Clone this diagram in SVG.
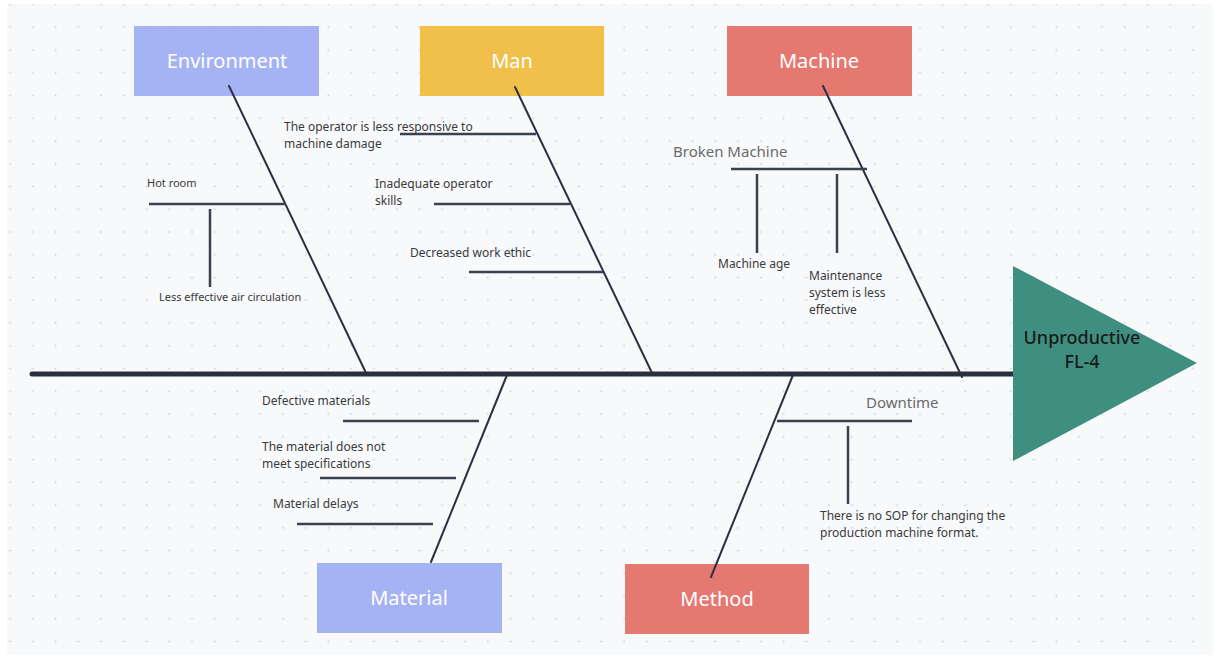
<svg xmlns="http://www.w3.org/2000/svg" width="1218" height="659" viewBox="0 0 1218 659">
<defs>
<pattern id="dots" patternUnits="userSpaceOnUse" x="-1.375" y="-6.875" width="22.75" height="22.75">
<circle cx="11.375" cy="11.375" r="1.1" fill="#d3d6dc"/>
</pattern>
<style>
.bone{stroke:#2a3140;stroke-width:2;fill:none;stroke-linecap:round}
.sub{stroke:#3a4252;stroke-width:2.5;fill:none}
.lbl{font-family:"Noto Sans","Open Sans","Liberation Sans",sans-serif;font-size:12px;fill:#3a3a3a}
.lbl11{font-family:"Noto Sans","Open Sans","Liberation Sans",sans-serif;font-size:11px;fill:#3a3a3a}
.grp{font-family:"Noto Sans","Open Sans","Liberation Sans",sans-serif;font-size:15px;fill:#6a6a6a}
.box{font-family:"Noto Sans","Open Sans","Liberation Sans",sans-serif;font-size:20px;fill:#ffffff;text-anchor:middle}
</style>
</defs>
<rect x="0" y="0" width="1218" height="659" fill="#ffffff"/>
<rect x="7" y="4" width="1206" height="651" fill="#f8f9fb"/>
<rect x="7" y="4" width="1206" height="651" fill="url(#dots)"/>

<g id="environment">
<rect x="134" y="26" width="185" height="70" fill="#a5b3f4"/>
<text class="box" x="227" y="68">Environment</text>
</g>
<g id="man">
<rect x="420" y="26" width="184" height="70" fill="#f0c04b"/>
<text class="box" x="512" y="68">Man</text>
</g>
<g id="machine">
<rect x="727" y="26" width="185" height="70" fill="#e67872"/>
<text class="box" x="819" y="68">Machine</text>
</g>
<g id="material">
<rect x="317" y="563" width="185" height="70" fill="#a5b3f4"/>
<text class="box" x="409" y="605">Material</text>
</g>
<g id="method">
<rect x="625" y="564" width="184" height="70" fill="#e67872"/>
<text class="box" x="717" y="606">Method</text>
</g>

<g id="connectors">
<line x1="32" y1="374" x2="1014" y2="374" stroke="#29303d" stroke-width="5" stroke-linecap="round"/>
<line class="bone" x1="229" y1="86" x2="367" y2="375"/>
<line class="bone" x1="515" y1="87" x2="653" y2="375"/>
<line class="bone" x1="823" y1="86" x2="962" y2="377"/>
<line class="bone" x1="507" y1="375" x2="431" y2="562"/>
<line class="bone" x1="793" y1="375" x2="711" y2="577"/>
<line class="sub" x1="149" y1="204" x2="286" y2="204"/>
<line class="sub" x1="210" y1="209" x2="210" y2="287"/>
<line class="sub" x1="400" y1="134" x2="536" y2="134"/>
<line class="sub" x1="434" y1="204" x2="570" y2="204"/>
<line class="sub" x1="469" y1="272" x2="603" y2="272"/>
<line class="sub" x1="731" y1="169" x2="867" y2="169"/>
<line class="sub" x1="757" y1="174" x2="757" y2="253"/>
<line class="sub" x1="837" y1="174" x2="837" y2="253"/>
<line class="sub" x1="343" y1="421" x2="479" y2="421"/>
<line class="sub" x1="320" y1="478" x2="456" y2="478"/>
<line class="sub" x1="297" y1="524" x2="433" y2="524"/>
<line class="sub" x1="777" y1="421" x2="912" y2="421"/>
<line class="sub" x1="848" y1="426" x2="848" y2="504"/>
</g>

<g id="effect">
<polygon points="1013,266 1197,363 1013,461" fill="#3f8f80"/>
<text x="1082" y="344" font-family="'Noto Sans','Open Sans','Liberation Sans',sans-serif" font-size="18" font-weight="500" fill="#1a1a1a" text-anchor="middle">Unproductive</text>
<text x="1082" y="368" font-family="'Noto Sans','Open Sans','Liberation Sans',sans-serif" font-size="18" font-weight="500" fill="#1a1a1a" text-anchor="middle">FL-4</text>
</g>

<g id="env-causes">
<text class="lbl11" x="147" y="187">Hot room</text>
<text class="lbl11" x="159" y="301">Less effective air circulation</text>
</g>
<g id="man-causes">
<text class="lbl" x="284" y="131">The operator is less responsive to</text>
<text class="lbl" x="284" y="148">machine damage</text>
<text class="lbl" x="375" y="188">Inadequate operator</text>
<text class="lbl" x="375" y="205">skills</text>
<text class="lbl" x="410" y="257">Decreased work ethic</text>
</g>
<g id="machine-causes">
<text class="grp" x="673" y="157">Broken Machine</text>
<text class="lbl" x="718" y="268">Machine age</text>
<text class="lbl" x="809" y="280">Maintenance</text>
<text class="lbl" x="809" y="297">system is less</text>
<text class="lbl" x="809" y="314">effective</text>
</g>
<g id="material-causes">
<text class="lbl" x="262" y="405">Defective materials</text>
<text class="lbl" x="262" y="451">The material does not</text>
<text class="lbl" x="262" y="468">meet specifications</text>
<text class="lbl" x="273" y="508">Material delays</text>
</g>
<g id="method-causes">
<text class="grp" x="866" y="408">Downtime</text>
<text class="lbl" x="820" y="520">There is no SOP for changing the</text>
<text class="lbl" x="820" y="537">production machine format.</text>
</g>
</svg>
